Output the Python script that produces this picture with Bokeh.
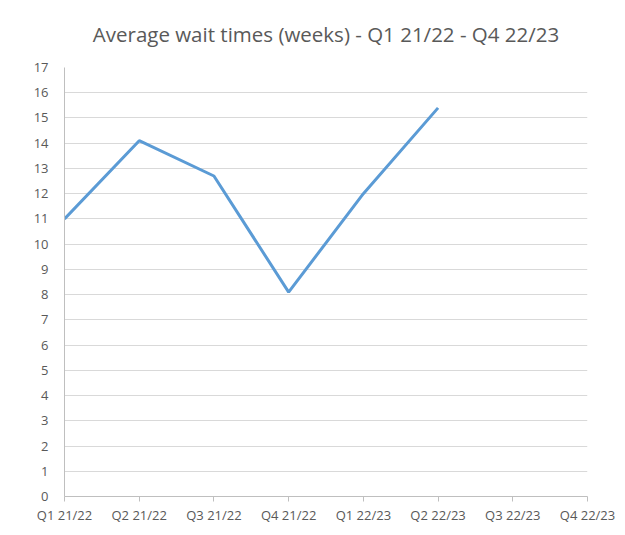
from bokeh.plotting import figure
from bokeh.models import FixedTicker, Range1d
from bokeh.embed import file_html
from bokeh.resources import INLINE

categories = ["Q1 21/22", "Q2 21/22", "Q3 21/22", "Q4 21/22",
              "Q1 22/23", "Q2 22/23", "Q3 22/23", "Q4 22/23"]
wait_weeks = [11.0, 14.1, 12.7, 8.1, 12.0, 15.4]
y_ticks = list(range(0, 18))

xs = list(range(len(wait_weeks)))

p = figure(width=617, height=527, output_backend="svg", toolbar_location=None,
           x_range=Range1d(0, len(categories) - 1), y_range=Range1d(0, 17),
           title="Average wait times (weeks) - Q1 21/22 - Q4 22/23",
           min_border_left=64, min_border_right=30, min_border_top=67,
           min_border_bottom=31)

p.title.align = "center"
p.title.vertical_align = "middle"
p.title.text_font = "Open Sans"
p.title.text_font_size = "20.5px"
p.title.text_font_style = "normal"
p.title.text_color = "#595959"
p.title.standoff = 37

p.line(xs, wait_weeks, line_color="#5b9bd5", line_width=3)

p.outline_line_color = None
p.background_fill_color = "white"
p.border_fill_color = "white"

p.xgrid.grid_line_color = None
p.ygrid.grid_line_color = "#d9d9d9"
p.ygrid.grid_line_width = 1

p.xaxis.ticker = FixedTicker(ticks=list(range(len(categories))))
p.xaxis.major_label_overrides = {i: c for i, c in enumerate(categories)}
p.xaxis.minor_tick_line_color = None
p.xaxis.major_tick_in = 0
p.xaxis.major_tick_out = 5
p.xaxis.major_tick_line_color = "#bfbfbf"
p.xaxis.axis_line_color = "#bfbfbf"
p.xaxis.major_label_standoff = 4

p.yaxis.ticker = FixedTicker(ticks=y_ticks)
p.yaxis.minor_tick_line_color = None
p.yaxis.major_tick_line_color = None
p.yaxis.axis_line_color = "#bfbfbf"
p.yaxis.major_label_standoff = 10

for ax in (p.xaxis, p.yaxis):
    ax.major_label_text_font = "Open Sans"
    ax.major_label_text_font_size = "13px"
    ax.major_label_text_color = "#595959"

open("out.html", "w").write(file_html(p, INLINE))
